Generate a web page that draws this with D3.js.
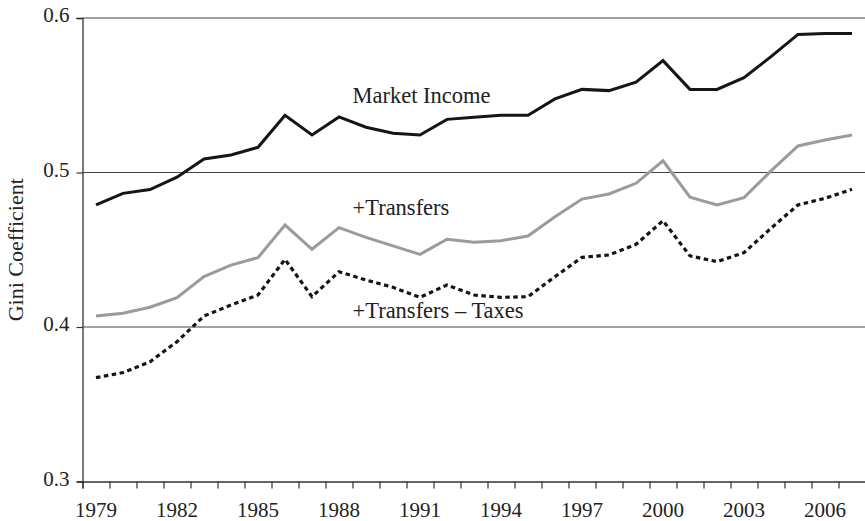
<!DOCTYPE html>
<html>
<head>
<meta charset="utf-8">
<script src="https://cdn.jsdelivr.net/npm/d3@7"></script>
<style>
  html, body { margin: 0; padding: 0; background: #fff; }
  svg text { font-family: "Liberation Serif", "DejaVu Serif", serif; fill: #222; }
</style>
</head>
<body>
<svg id="chart" width="865" height="521"></svg>
<script>
// ---- data ----
const years = d3.range(1979, 2008);
const tickYears = [1979, 1982, 1985, 1988, 1991, 1994, 1997, 2000, 2003, 2006];
const yTicks = [0.3, 0.4, 0.5, 0.6];

const marketIncome = [0.479, 0.4865, 0.489, 0.497, 0.5087, 0.5113, 0.5163, 0.537, 0.5243, 0.536,
  0.5293, 0.5254, 0.5243, 0.5344, 0.5357, 0.537, 0.537, 0.5476, 0.5538, 0.553,
  0.5584, 0.5724, 0.5538, 0.5538, 0.5614, 0.575, 0.5894, 0.590, 0.590];
const plusTransfers = [0.4071, 0.4089, 0.4128, 0.419, 0.4326, 0.4401, 0.4449, 0.466, 0.4503, 0.4643,
  0.458, 0.4525, 0.447, 0.4568, 0.4548, 0.4559, 0.4589, 0.4714, 0.4828, 0.4861,
  0.493, 0.5076, 0.484, 0.479, 0.4837, 0.501, 0.5172, 0.521, 0.5243];
const minusTaxes = [0.3672, 0.3705, 0.3775, 0.3905, 0.4071, 0.4142, 0.4207, 0.4438, 0.4196, 0.4358,
  0.4304, 0.4257, 0.4192, 0.4272, 0.4207, 0.4192, 0.4196, 0.4326, 0.4451, 0.4466,
  0.4535, 0.4688, 0.446, 0.4423, 0.4481, 0.4639, 0.479, 0.4833, 0.4891];

const svg = d3.select("#chart");
const plotLeft = 82.5, plotRight = 865.5, plotTop = 18, plotBottom = 481.5;

// each year occupies one band; points sit in the middle of the band
const x = d3.scaleLinear().domain([1979, 2008]).range([plotLeft, plotRight]);
const y = d3.scaleLinear().domain([0.3, 0.6]).range([plotBottom, plotTop]);

// gridlines
svg.append("g").selectAll("line")
  .data(yTicks.filter(t => t > 0.3)).join("line")
  .attr("x1", plotLeft).attr("x2", plotRight)
  .attr("y1", d => y(d)).attr("y2", d => y(d))
  .attr("stroke", "#444").attr("stroke-width", 1.2);

// y axis
const yAxis = svg.append("g").attr("transform", `translate(${plotLeft},0)`)
  .call(d3.axisLeft(y).tickValues(yTicks).tickFormat(d3.format(".1f")).tickSize(6).tickPadding(7));
yAxis.select(".domain").attr("stroke", "#333").attr("stroke-width", 1.3);
yAxis.selectAll(".tick line").attr("stroke", "#333").attr("stroke-width", 1.2);
yAxis.selectAll("text").attr("font-size", 21).attr("font-family", "Liberation Serif")
  .attr("fill", "#222").attr("dy", "0.17em");

// x axis: ticks at year boundaries, labels centered in the year
const xAxis = svg.append("g").attr("transform", `translate(0,${plotBottom})`)
  .call(d3.axisBottom(x).tickValues(years).tickSize(7).tickFormat(""));
xAxis.select(".domain").attr("stroke", "#333").attr("stroke-width", 1.3);
xAxis.selectAll(".tick line").attr("stroke", "#333").attr("stroke-width", 1.2);

svg.append("g").selectAll("text")
  .data(tickYears).join("text")
  .attr("x", d => x(d + 0.5)).attr("y", plotBottom + 35)
  .attr("text-anchor", "middle").attr("font-size", 21)
  .text(d => d);

// y title
svg.append("text")
  .attr("transform", `translate(23,${(plotTop + plotBottom) / 2}) rotate(-90)`)
  .attr("text-anchor", "middle").attr("font-size", 22)
  .text("Gini Coefficient");

// lines
const line = d3.line().x((d, i) => x(years[i] + 0.5)).y(d => y(d));

svg.append("path").datum(plusTransfers)
  .attr("fill", "none").attr("stroke", "#9b9b9b").attr("stroke-width", 3)
  .attr("d", line);

svg.append("path").datum(minusTaxes)
  .attr("fill", "none").attr("stroke", "#151515").attr("stroke-width", 3.2)
  .attr("stroke-dasharray", "4.5,3.5").attr("d", line);

svg.append("path").datum(marketIncome)
  .attr("fill", "none").attr("stroke", "#151515").attr("stroke-width", 3)
  .attr("d", line);

// series labels
const labelText = ["Market Income", "+Transfers", "+Transfers \u2013 Taxes"];
const labelY = [103, 215, 318];
svg.append("g").selectAll("text")
  .data(labelText).join("text")
  .attr("x", 352.5).attr("y", (d, i) => labelY[i])
  .attr("font-size", 22.5)
  .text(d => d);
</script>
</body>
</html>
